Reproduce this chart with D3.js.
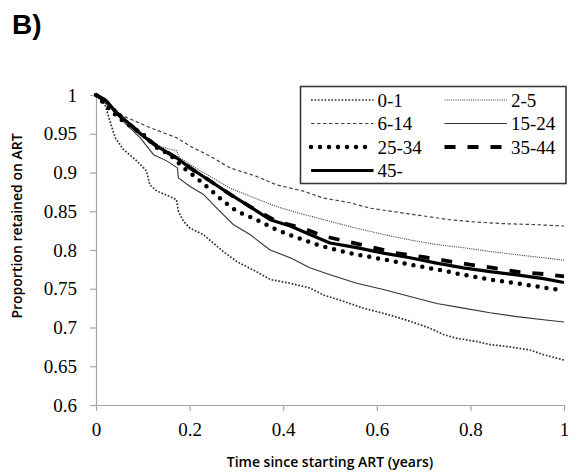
<!DOCTYPE html>
<html>
<head>
<meta charset="utf-8">
<script src="https://cdn.jsdelivr.net/npm/d3@7"></script>
<style>
  body { margin: 0; background: #fff; }
  svg { display: block; }
</style>
</head>
<body>
<svg id="chart" width="578" height="476"></svg>
<script>
// Kaplan-Meier retention on ART by age group (years since start, proportion retained)
const ageGroups = ["0-1", "2-5", "6-14", "15-24", "25-34", "35-44", "45-"];

const years0to1 = [0, .019, .030, .041, .058, .087, .108, .115, .130, .158, .172, .176, .187, .201, .229, .272, .301, .343, .372, .415, .457, .486, .528, .571, .628, .671, .714, .742, .771, .813, .842, .885, .927, .956, 1];
const retained0to1 = [1, .988, .966, .945, .930, .915, .902, .884, .876, .869, .865, .850, .837, .828, .820, .798, .785, .772, .762, .757, .751, .742, .734, .725, .716, .708, .699, .691, .686, .682, .678, .675, .671, .665, .658];

const years2to5 = [0, .030, .058, .100, .140, .172, .179, .215, .286, .343, .386, .443, .500, .557, .614, .671, .728, .785, .842, .899, .956, 1];
const retained2to5 = [1, .985, .968, .945, .933, .928, .919, .905, .880, .866, .856, .846, .837, .828, .820, .813, .807, .803, .798, .794, .790, .787];

const years6to14 = [0, .030, .058, .115, .172, .201, .244, .286, .343, .386, .443, .486, .543, .585, .642, .699, .756, .813, .870, .927, 1];
const retained6to14 = [1, .986, .973, .958, .945, .934, .921, .906, .895, .884, .876, .867, .861, .854, .849, .844, .839, .836, .834, .833, .831];

const years15to24 = [0, .030, .058, .094, .123, .151, .174, .176, .201, .229, .258, .293, .329, .372, .415, .457, .500, .557, .614, .671, .728, .785, .842, .899, .956, 1];
const retained15to24 = [1, .984, .966, .945, .923, .915, .906, .893, .882, .872, .854, .833, .820, .800, .790, .777, .768, .757, .749, .740, .731, .725, .719, .714, .710, .707];

const years25to34 = [0, .030, .058, .101, .130, .158, .187, .215, .244, .272, .301, .343, .386, .429, .472, .514, .557, .614, .671, .728, .785, .842, .899, .942, .984, 1];
const retained25to34 = [1, .981, .966, .949, .932, .923, .906, .893, .878, .863, .850, .839, .826, .816, .807, .800, .794, .788, .781, .775, .768, .762, .757, .753, .749, .748];

const years35to44 = [0, .023, .044, .073, .101, .130, .172, .201, .244, .286, .329, .386, .443, .486, .543, .593, .642, .699, .749, .799, .849, .899, .956, 1];
const retained35to44 = [1, .992, .977, .962, .947, .934, .919, .906, .889, .872, .856, .837, .828, .818, .810, .803, .796, .791, .786, .781, .777, .772, .769, .766];

const years45plus = [0, .023, .044, .073, .101, .130, .172, .201, .244, .286, .329, .372, .415, .457, .500, .557, .614, .671, .728, .785, .842, .899, .956, 1];
const retained45plus = [1, .992, .977, .962, .947, .934, .919, .906, .889, .872, .856, .839, .831, .820, .809, .803, .796, .790, .783, .777, .772, .768, .763, .758];

const xTickValues = [0, 0.2, 0.4, 0.6, 0.8, 1];
const yTickValues = [0.6, 0.65, 0.7, 0.75, 0.8, 0.85, 0.9, 0.95, 1];

const panelLabel = "B)";
const xTitle = "Time since starting ART (years)";
const yTitle = "Proportion retained on ART";

// Line style for each age group
const styles = {
  "0-1":   { width: 1.7, dash: "1.7,1.7", color: "#333", cap: "butt" },
  "2-5":   { width: 1.1, dash: "1.1,1.1", color: "#444", cap: "butt" },
  "6-14":  { width: 1.2, dash: "3.5,2.5", color: "#444", cap: "butt" },
  "15-24": { width: 1.1, dash: null,      color: "#333", cap: "butt" },
  "25-34": { width: 4.5, dash: "0,9",     color: "#000", cap: "round" },
  "35-44": { width: 3.8, dash: "11,12",   color: "#000", cap: "butt" },
  "45-":   { width: 3.2, dash: null,      color: "#000", cap: "butt" }
};

const seriesData = [
  [years0to1, retained0to1],
  [years2to5, retained2to5],
  [years6to14, retained6to14],
  [years15to24, retained15to24],
  [years25to34, retained25to34],
  [years35to44, retained35to44],
  [years45plus, retained45plus]
].map(([t, v], i) => ({
  name: ageGroups[i],
  points: t.map((d, j) => ({ t: d, v: v[j] }))
}));

const svg = d3.select("#chart");

const x = d3.scaleLinear().domain([0, 1]).range([96, 564]);
const y = d3.scaleLinear().domain([0.6, 1]).range([405, 95]);

const serif = "'Liberation Serif', 'Times New Roman', serif";
const sans = "'Open Sans', 'Liberation Sans', Arial, sans-serif";

// Axes
const xAxis = svg.append("g")
  .attr("transform", `translate(0,${y(0.6)})`)
  .call(d3.axisBottom(x).tickValues(xTickValues).tickSize(6).tickSizeOuter(0)
    .tickPadding(12).tickFormat(d => String(d)));

const yAxis = svg.append("g")
  .attr("transform", `translate(${x(0)},0)`)
  .call(d3.axisLeft(y).tickValues(yTickValues).tickSize(6).tickSizeOuter(0)
    .tickPadding(13).tickFormat(d => String(d)));

[xAxis, yAxis].forEach(g => {
  g.select(".domain").attr("stroke", "#a6a6a6").attr("stroke-width", 1.2);
  g.selectAll(".tick line").attr("stroke", "#a6a6a6").attr("stroke-width", 1.2);
  g.selectAll(".tick text")
    .attr("fill", "#000")
    .style("font-family", serif)
    .style("font-size", "19px");
});

// Survival curves
const line = d3.line().x(d => x(d.t)).y(d => y(d.v));

svg.append("g")
  .selectAll("path")
  .data(seriesData)
  .join("path")
  .attr("d", d => line(d.points))
  .attr("fill", "none")
  .attr("stroke", d => styles[d.name].color)
  .attr("stroke-width", d => styles[d.name].width)
  .attr("stroke-dasharray", d => styles[d.name].dash)
  .attr("stroke-linecap", d => styles[d.name].cap)
  .attr("stroke-linejoin", "round");

// Legend
const legend = svg.append("g");
legend.append("rect")
  .attr("x", 300.5).attr("y", 86.5)
  .attr("width", 265.5).attr("height", 97)
  .attr("fill", "#fff")
  .attr("stroke", "#3a3a3a")
  .attr("stroke-width", 1.6);

const rowY = [100, 123.5, 147, 170.5];
const colX = [311, 444.5];
const sampleLen = 62.5;
ageGroups.forEach((name, i) => {
  const row = Math.floor(i / 2), col = i % 2;
  const s = styles[name];
  const lx = colX[col], ly = rowY[row];
  legend.append("line")
    .attr("x1", lx).attr("x2", lx + sampleLen)
    .attr("y1", ly).attr("y2", ly)
    .attr("stroke", s.color)
    .attr("stroke-width", s.width)
    .attr("stroke-dasharray", s.dash)
    .attr("stroke-linecap", s.cap);
  legend.append("text")
    .attr("x", lx + sampleLen + 4)
    .attr("y", ly + 6.5)
    .attr("fill", "#000")
    .style("font-family", serif)
    .style("font-size", "19px")
    .text(name);
});

// Titles
svg.append("text")
  .attr("x", 330).attr("y", 467)
  .attr("text-anchor", "middle")
  .style("font-family", sans)
  .style("font-weight", 600)
  .style("font-size", "14px")
  .text(xTitle);

svg.append("text")
  .attr("transform", "translate(22,226) rotate(-90)")
  .attr("text-anchor", "middle")
  .style("font-family", sans)
  .style("font-weight", 600)
  .style("font-size", "14px")
  .text(yTitle);

svg.append("text")
  .attr("x", 12).attr("y", 34)
  .style("font-family", "'Liberation Sans', Arial, sans-serif")
  .style("font-weight", 700)
  .style("font-size", "28px")
  .text(panelLabel);
</script>
</body>
</html>
